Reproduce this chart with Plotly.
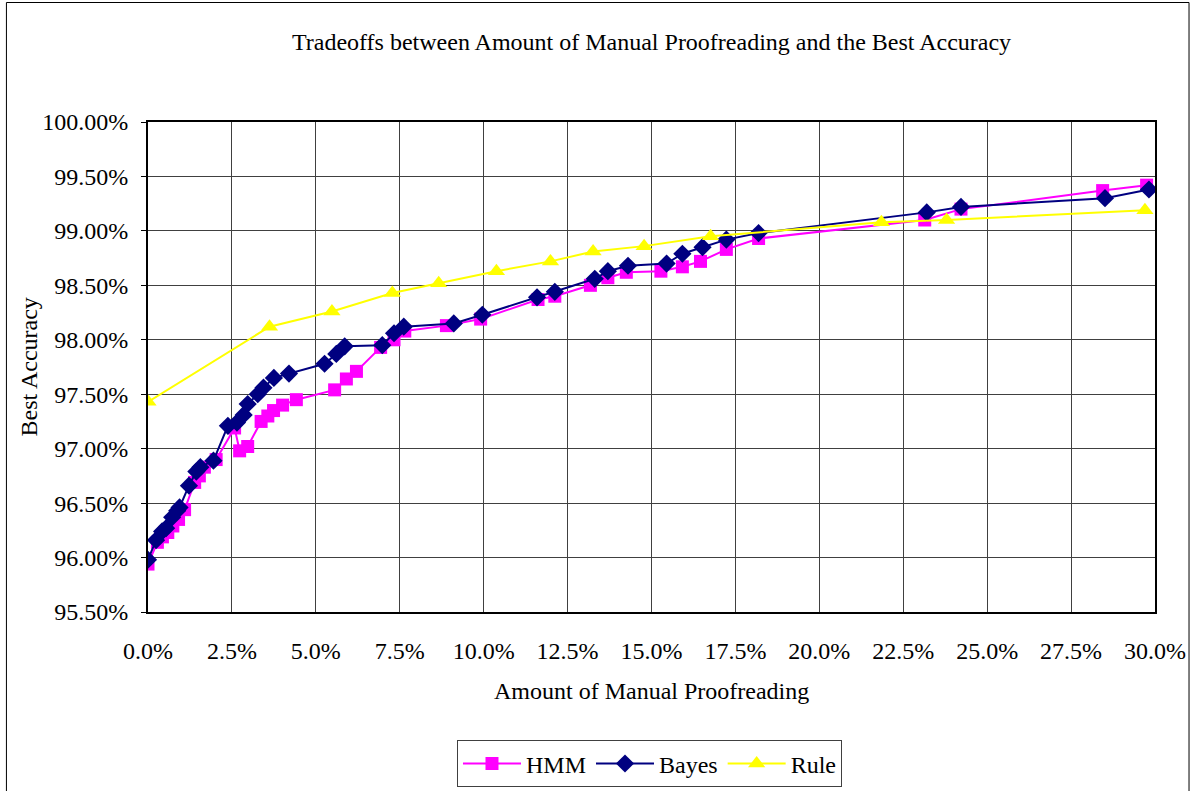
import plotly.graph_objects as go

# ---- data (x: amount of manual proofreading in %, y: best accuracy in %) ----
hmm_x = [0.00, 0.28, 0.43, 0.59, 0.74, 0.91, 1.09, 1.39, 1.53, 1.68, 2.03, 2.58, 2.73, 2.97,
         3.37, 3.57, 3.74, 4.01, 4.42, 5.56, 5.91, 6.21, 6.93, 7.33, 7.65, 8.89, 9.91,
         11.62, 12.12, 13.18, 13.70, 14.25, 15.28, 15.92, 16.46, 17.23, 18.19, 23.14,
         24.22, 28.44, 29.75]
hmm_y = [95.94, 96.14, 96.19, 96.23, 96.29, 96.35, 96.44, 96.69, 96.75, 96.83, 96.90, 97.19,
         96.98, 97.02, 97.25, 97.30, 97.35, 97.40, 97.45, 97.54, 97.64, 97.71, 97.93, 98.00,
         98.08, 98.13, 98.19, 98.37, 98.40, 98.50, 98.57, 98.62, 98.63, 98.67, 98.72, 98.83,
         98.93, 99.10, 99.20, 99.37, 99.42]

bayes_x = [0.00, 0.24, 0.42, 0.54, 0.72, 0.87, 0.94, 1.22, 1.44, 1.56, 1.95, 2.38, 2.65, 2.85,
           2.97, 3.27, 3.44, 3.75, 4.20, 5.26, 5.61, 5.86, 6.98, 7.33, 7.62, 9.11, 9.96,
           11.59, 12.12, 13.31, 13.70, 14.30, 15.45, 15.92, 16.52, 17.23, 18.19, 23.20,
           24.22, 28.51, 29.82]
bayes_y = [95.98, 96.16, 96.24, 96.27, 96.37, 96.43, 96.46, 96.66, 96.79, 96.83, 96.89, 97.21,
           97.24, 97.31, 97.41, 97.50, 97.56, 97.65, 97.69, 97.78, 97.87, 97.94, 97.95, 98.06,
           98.12, 98.15, 98.23, 98.39, 98.44, 98.56, 98.63, 98.68, 98.70, 98.79, 98.85, 98.92,
           98.98, 99.17, 99.22, 99.30, 99.38]

rule_x = [0.00, 3.62, 5.48, 7.28, 8.66, 10.38, 11.99, 13.26, 14.78, 16.76, 21.85, 23.79, 29.70]
rule_y = [97.43, 98.12, 98.26, 98.43, 98.52, 98.63, 98.72, 98.81, 98.86, 98.95, 99.08, 99.10, 99.19]

x_ticks = [0, 2.5, 5, 7.5, 10, 12.5, 15, 17.5, 20, 22.5, 25, 27.5, 30]
x_tick_labels = ["0.0%", "2.5%", "5.0%", "7.5%", "10.0%", "12.5%", "15.0%", "17.5%",
                 "20.0%", "22.5%", "25.0%", "27.5%", "30.0%"]
y_ticks = [95.5, 96.0, 96.5, 97.0, 97.5, 98.0, 98.5, 99.0, 99.5, 100.0]
y_tick_labels = ["95.50%", "96.00%", "96.50%", "97.00%", "97.50%", "98.00%", "98.50%",
                 "99.00%", "99.50%", "100.00%"]

FONT = "Liberation Serif, Times New Roman, serif"
FS = 24
TXT = dict(family=FONT, size=FS, color="black")

fig = go.Figure()
fig.add_trace(go.Scatter(x=hmm_x, y=hmm_y, name="HMM", mode="lines+markers",
                         line=dict(color="#FF00FF", width=2),
                         marker=dict(symbol="square", size=13, color="#FF00FF")))
fig.add_trace(go.Scatter(x=bayes_x, y=bayes_y, name="Bayes", mode="lines+markers",
                         line=dict(color="#000080", width=2),
                         marker=dict(symbol="diamond", size=14, color="#000080")))
fig.add_trace(go.Scatter(x=rule_x, y=rule_y, name="Rule", mode="lines+markers",
                         line=dict(color="#FFFF00", width=2),
                         marker=dict(symbol="triangle-up", size=15, color="#FFFF00")))

fig.update_layout(
    width=1192, height=791,
    margin=dict(l=148, r=37, t=122, b=179, autoexpand=False),
    paper_bgcolor="white", plot_bgcolor="white",
    font=TXT,
    title=dict(text="Tradeoffs between Amount of Manual Proofreading and the Best Accuracy",
               x=0.5, xref="paper", xanchor="center", y=1 - 42 / 791, yanchor="middle",
               font=TXT),
    showlegend=True,
    legend=dict(orientation="h", x=0.498, xanchor="center", y=-0.262, yanchor="top",
                bordercolor="#404040", borderwidth=1, bgcolor="white",
                font=TXT, itemwidth=58, tracegroupgap=0),
    xaxis=dict(range=[0, 30], tickmode="array", tickvals=x_ticks, ticktext=x_tick_labels,
               tickfont=TXT, automargin=False,
               showgrid=True, gridcolor="#404040", gridwidth=1,
               showline=True, linecolor="black", linewidth=2, mirror=True,
               ticks="", ticklabelstandoff=16, zeroline=False),
    yaxis=dict(range=[95.5, 100], tickmode="array", tickvals=y_ticks, ticktext=y_tick_labels,
               tickfont=TXT, automargin=False,
               showgrid=True, gridcolor="#404040", gridwidth=1,
               showline=True, linecolor="black", linewidth=2, mirror=True,
               ticks="outside", ticklen=5, tickcolor="black", ticklabelstandoff=8,
               zeroline=False),
    annotations=[
        dict(text="Amount of Manual Proofreading", xref="paper", yref="paper",
             x=0.5, y=(612.5 - 691) / 490, xanchor="center", yanchor="middle",
             showarrow=False, font=TXT),
        dict(text="Best Accuracy", xref="paper", yref="paper",
             x=(30 - 148.5) / 1006.5, y=0.5, xanchor="center", yanchor="middle",
             textangle=-90, showarrow=False, font=TXT),
    ],
    shapes=[
        dict(type="rect", xref="paper", yref="paper",
             x0=(7 - 148.5) / 1006.5, x1=(1189 - 148.5) / 1006.5,
             y0=(612.5 - 820) / 490, y1=(612.5 - 3) / 490,
             line=dict(color="black", width=1), fillcolor="rgba(0,0,0,0)", layer="below"),
    ],
)

fig.write_html("out.html", config={"displayModeBar": False},
               post_script="document.body.style.margin='0';document.body.style.padding='0';")
